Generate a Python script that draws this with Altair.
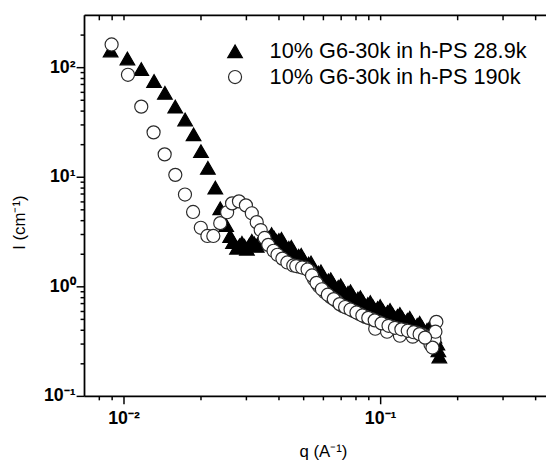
import altair as alt
import pandas as pd

# ---- data (q in A^-1, I in cm^-1) ----
series_names = ["10% G6-30k in h-PS 28.9k", "10% G6-30k in h-PS 190k"]

tri_q = [0.00891, 0.01036, 0.01173, 0.01316, 0.0145, 0.01591, 0.01739, 0.01875,
         0.02004, 0.02132, 0.02279, 0.02382, 0.02512, 0.02604,
         0.02672, 0.02769, 0.02894, 0.03026, 0.03162, 0.03305, 0.03456, 0.03612,
         0.03775, 0.03946, 0.04125, 0.04312, 0.04506, 0.04711, 0.04924, 0.05146,
         0.0538, 0.05623, 0.05878, 0.06145, 0.06423, 0.06713, 0.07017, 0.07335,
         0.07667, 0.08013, 0.08377, 0.08756, 0.09152, 0.09568, 0.1, 0.1045,
         0.1093, 0.1142, 0.1194, 0.1248, 0.1304, 0.1364, 0.1425, 0.149, 0.1557,
         0.1627, 0.1671, 0.1686, 0.1701,
         0.02831, 0.02959, 0.03094, 0.03233, 0.03379, 0.03533, 0.03693, 0.03860,
         0.04034, 0.04217, 0.04408, 0.04607, 0.04816, 0.05034, 0.05262, 0.05500,
         0.05749, 0.06010, 0.06282, 0.06567, 0.06864, 0.07175, 0.07499, 0.07839,
         0.08193, 0.08565, 0.08952, 0.09357, 0.09781, 0.1022, 0.1069, 0.1117,
         0.1168, 0.1220, 0.1276, 0.1333, 0.1394, 0.1457, 0.1523, 0.1592]
tri_I = [142, 120, 96, 74.8, 58.3, 43.6, 33.3, 24.4,
         17.1, 12.05, 7.96, 5.15, 3.62, 2.88,
         2.54, 2.25, 2.49, 2.20, 2.60, 2.34, 2.76, 2.60,
         3.00, 2.60, 2.71, 2.20, 2.29, 1.86, 1.94, 1.58,
         1.65, 1.31, 1.37, 1.11, 1.16, 0.959, 1.02, 0.847,
         0.902, 0.748, 0.796, 0.660, 0.718, 0.608, 0.660, 0.559,
         0.608, 0.515, 0.559, 0.474, 0.515, 0.427, 0.464, 0.385, 0.418,
         0.347, 0.300, 0.260, 0.229,
         2.365, 2.341, 2.389, 2.465, 2.544, 2.679, 2.792, 2.792,
         2.651, 2.440, 2.246, 2.067, 1.902, 1.751, 1.611, 1.468,
         1.337, 1.230, 1.133, 1.053, 0.990, 0.930, 0.874, 0.821,
         0.772, 0.725, 0.688, 0.660, 0.634, 0.608, 0.583, 0.559,
         0.537, 0.515, 0.494, 0.469, 0.445, 0.423, 0.401, 0.385]

circ_q = [0.00899, 0.01041, 0.01173, 0.0131, 0.01447, 0.01592, 0.01736, 0.01867,
          0.02001, 0.02123, 0.02239, 0.02382, 0.02534, 0.02649, 0.02818, 0.02999,
          0.03162, 0.03305, 0.03425, 0.03548, 0.03665, 0.03843, 0.03981, 0.04161,
          0.0435, 0.04587, 0.04838, 0.05102, 0.05332, 0.05525, 0.05775, 0.0609,
          0.06423, 0.06773, 0.07142, 0.07467, 0.07874, 0.08302, 0.08756, 0.09234,
          0.09824, 0.1045, 0.1112, 0.1173, 0.1248, 0.1316, 0.1388, 0.1463, 0.153,
          0.1571, 0.1627, 0.1656, 0.1642, 0.1599,
          0.09568, 0.1064, 0.1194, 0.1339,
          0.04711, 0.04968, 0.05215, 0.05427, 0.05651, 0.05931, 0.06255, 0.06595,
          0.06955, 0.07303, 0.07667, 0.08086, 0.08526, 0.08991, 0.09524, 0.1013,
          0.1078, 0.1142, 0.121, 0.1281, 0.1351, 0.1425, 0.1496]
circ_I = [161, 85.2, 43.6, 25.4, 16.0, 10.4, 6.88, 4.77,
          3.42, 2.88, 2.88, 3.77, 4.74, 5.71, 5.96, 5.48,
          4.64, 3.85, 3.26, 2.76, 2.39, 2.11, 1.94, 1.79,
          1.65, 1.55, 1.51, 1.48, 1.37, 1.16, 1.0, 0.883,
          0.796, 0.733, 0.660, 0.634, 0.595, 0.559, 0.526, 0.504,
          0.474, 0.445, 0.427, 0.410, 0.401, 0.385, 0.377, 0.362, 0.347,
          0.294, 0.326, 0.474, 0.385, 0.276,
          0.410, 0.385, 0.354, 0.347,
          1.530, 1.483, 1.423, 1.256, 1.075, 0.939, 0.838, 0.764,
          0.688, 0.647, 0.614, 0.577, 0.542, 0.515, 0.489, 0.459,
          0.436, 0.418, 0.405, 0.393, 0.381, 0.366, 0.340]

x_ticks = [0.008, 0.009, 0.01, 0.02, 0.03, 0.04, 0.05, 0.06, 0.07, 0.08, 0.09,
           0.1, 0.2, 0.3, 0.4]
y_ticks = [0.1, 0.2, 0.3, 0.4, 0.5, 0.6, 0.7, 0.8, 0.9, 1, 2, 3, 4, 5, 6, 7, 8, 9,
           10, 20, 30, 40, 50, 60, 70, 80, 90, 100, 200]
decade_labels = {-2: "10\u207b\u00b2", -1: "10\u207b\u00b9", 0: "10\u2070",
                 1: "10\u00b9", 2: "10\u00b2"}

rows = [{"q": q, "I": i, "series": series_names[0]} for q, i in zip(tri_q, tri_I)]
rows += [{"q": q, "I": i, "series": series_names[1]} for q, i in zip(circ_q, circ_I)]
df = pd.DataFrame(rows)

LOG = "(log(datum.value)/LN10)"
is_decade = f"abs({LOG} - round({LOG})) < 0.001"
lab = "''"
for k, v in decade_labels.items():
    lab = f"(round({LOG}) == {k} ? '{v}' : {lab})"
label_expr = f"{is_decade} ? {lab} : ''"
major_minor = {"condition": {"test": is_decade, "value": 8}, "value": 4}

xscale = alt.Scale(type="log", domain=[0.007018, 0.4428], nice=False)
yscale = alt.Scale(type="log", domain=[0.1, 300], nice=False)

FONT = "Liberation Sans"

points = alt.Chart(df).mark_point(filled=True, opacity=1, strokeWidth=1.2).encode(
    x=alt.X("q:Q", scale=xscale,
            axis=alt.Axis(orient="bottom", values=x_ticks, labelExpr=label_expr,
                          tickSize=major_minor, labelFontSize=18, labelFontWeight="bold",
                          labelFont=FONT, labelPadding=6, labelFlush=False,
                          labelOverlap=False, title="q (A\u207b\u00b9)", titleFont=FONT,
                          titleFontSize=17, titleFontWeight="normal", titleX=242,
                          titleY=56, titleBaseline="middle", titleAlign="center")),
    y=alt.Y("I:Q", scale=yscale,
            axis=alt.Axis(orient="left", values=y_ticks, labelExpr=label_expr,
                          tickSize=major_minor, labelFontSize=18, labelFontWeight="bold",
                          labelFont=FONT, labelPadding=1, labelFlush=False,
                          labelOverlap=False, title="I (cm\u207b\u00b9)", titleFont=FONT,
                          titleFontSize=17, titleFontWeight="normal", titleX=-65,
                          titleY=210, titleBaseline="middle", titleAlign="center",
                          titleAngle=270)),
    shape=alt.Shape("series:N", scale=alt.Scale(domain=series_names,
                                                  range=["triangle-up", "circle"]),
                    legend=alt.Legend(orient="none", legendX=142, legendY=26,
                                      title=None, labelFontSize=22, labelFont=FONT,
                                      labelOffset=24, rowPadding=4, padding=0,
                                      symbolStrokeWidth=1.2, labelLimit=400)),
    fill=alt.Fill("series:N", scale=alt.Scale(domain=series_names, range=["black", "white"])),
    stroke=alt.Stroke("series:N", scale=alt.Scale(domain=series_names, range=["black", "#2a2a2a"])),
    size=alt.Size("series:N", scale=alt.Scale(domain=series_names, range=[220, 175])),
)

top_axis = alt.Chart(df).mark_point(opacity=0).encode(
    x=alt.X("q:Q", scale=xscale,
            axis=alt.Axis(orient="top", values=x_ticks, labels=False, title="",
                          tickSize={"expr": "-5"})),
    y=alt.value(0),
)

chart = alt.layer(points, top_axis).resolve_axis(x="independent").properties(
    width=468, height=386,
    autosize=alt.AutoSizeParams(type="none"),
    padding={"left": 77, "top": 4, "right": 0, "bottom": 62},
).configure_view(stroke="transparent").configure_axis(
    grid=False, domainColor="black", tickColor="black", domainWidth=1.8, tickWidth=1.5,
)

chart.save("out.html", embed_options={"renderer": "svg", "actions": False})
